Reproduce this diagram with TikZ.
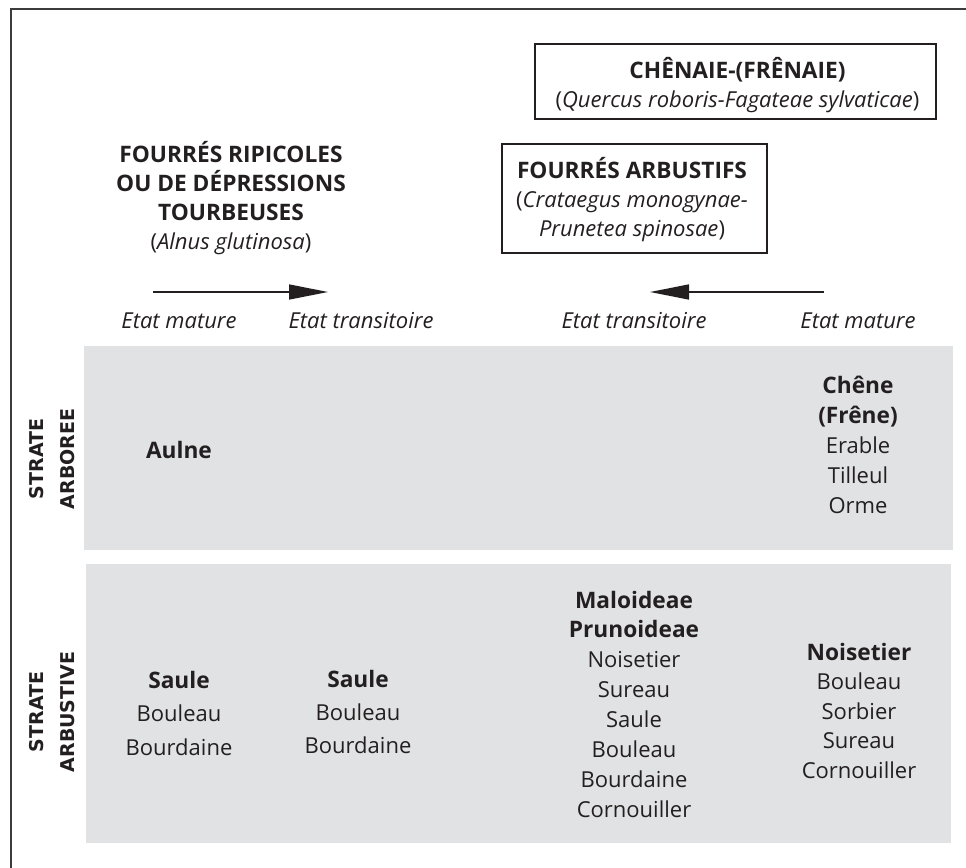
\documentclass[tikz,border=0pt]{standalone}
\usepackage{fontspec}
\setmainfont{Open Sans}
\newfontfamily\stratefont{DejaVu Sans}
\usetikzlibrary{arrows.meta}
\definecolor{ink}{HTML}{231F20}
\definecolor{panelc}{HTML}{E1E2E3}
\definecolor{framec}{HTML}{3C3C3C}
\newcommand\colstack[1]{\begin{tabular}[t]{@{}c@{}}#1\end{tabular}}
\newcommand\midstack[1]{\begin{tabular}{@{}c@{}}#1\end{tabular}}
\newcommand\bt[1]{{\fontsize{22.7}{29}\selectfont\bfseries #1}}
\begin{document}
\begin{tikzpicture}[x=1pt,y=-1pt,
  txt/.style={inner sep=0pt, anchor=base, text=ink},
  sp/.style={font=\fontsize{22}{#1}\selectfont},
  boxst/.style={draw=ink, line width=1.5pt, inner sep=0pt},
  arr/.style={draw=ink, line width=1.5pt, -{Triangle[length=39pt,width=15pt]}},
  strate/.style={inner sep=0pt, rotate=90, text=ink, font=\stratefont\fontsize{19}{31}\selectfont\bfseries}]
\useasboundingbox (0,0) rectangle (966,867);
\clip (0,0) rectangle (966,867);
\draw[framec, line width=2pt] (11,880) -- (11,9) -- (980,9);
% panels
\fill[panelc] (84,346) rectangle (953,550);
\fill[panelc] (86,564) rectangle (951,843);
% boxes
\node[boxst, minimum width=401pt, minimum height=75pt] (chenaiebox) at (735.5,81.5) {};
\node[boxst, minimum width=265pt, minimum height=109pt] (arbustifsbox) at (634.5,198.5) {};
% titles
\node[txt, sp=29] (chenaie) at (737.5,78) {\colstack{\bt{CHÊNAIE-(FRÊNAIE)}\\(\textit{Quercus roboris-Fagateae sylvaticae})}};
\node[txt, sp=29] (arbustifs) at (632,178) {\colstack{\bt{FOURRÉS ARBUSTIFS}\\(\textit{Crataegus monogynae-}\\\textit{Prunetea spinosae})}};
\node[txt, sp=29] (ripicoles) at (231,162) {\colstack{\bt{FOURRÉS RIPICOLES}\\\bt{OU DE DÉPRESSIONS}\\\bt{TOURBEUSES}\\(\textit{Alnus glutinosa})}};
% arrows
\coordinate (a1s) at (153,292);
\coordinate (a1e) at (328,292);
\coordinate (a2s) at (824,292);
\coordinate (a2e) at (650,292);
\draw[arr] (a1s) -- (a1e);
\draw[arr] (a2s) -- (a2e);
% state labels
\node[txt, sp=29] (em1) at (179,328) {\textit{Etat mature}};
\node[txt, sp=29] (et1) at (361,328) {\textit{Etat transitoire}};
\node[txt, sp=29] (et2) at (634,328) {\textit{Etat transitoire}};
\node[txt, sp=29] (em2) at (858,328) {\textit{Etat mature}};
% strate labels
\node[strate] (arboree) at (52.5,459) {\midstack{\bfseries STRATE\\\bfseries ARBOREE}};
\node[strate] (arbustive) at (52.5,712) {\midstack{\bfseries STRATE\\\bfseries ARBUSTIVE}};
% strate arboree content
\node[txt, sp=29] (aulne) at (179,458) {\bt{Aulne}};
\node[txt, sp=29.9] (chene) at (858,393.5) {\colstack{\bt{Chêne}\\\bt{(Frêne)}\\Erable\\Tilleul\\Orme}};
% strate arbustive content
\node[txt, sp=33.5] (sauleA) at (179,688) {\colstack{\bt{Saule}\\Bouleau\\Bourdaine}};
\node[txt, sp=33] (sauleB) at (358,687) {\colstack{\bt{Saule}\\Bouleau\\Bourdaine}};
\node[txt, sp=29.86] (malo) at (634,608) {\colstack{\bt{Maloideae}\\\bt{Prunoideae}\\Noisetier\\Sureau\\Saule\\Bouleau\\Bourdaine\\Cornouiller}};
\node[txt, sp=29.5] (noisetier) at (859,660) {\colstack{\bt{Noisetier}\\Bouleau\\Sorbier\\Sureau\\Cornouiller}};
\end{tikzpicture}
\end{document}
